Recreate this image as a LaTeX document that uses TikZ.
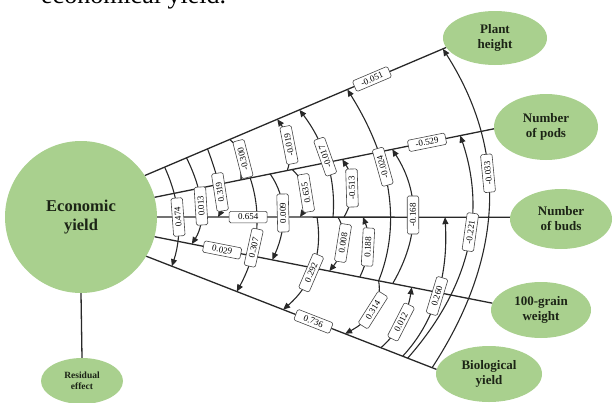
\documentclass[tikz,border=0pt]{standalone}
\usepackage{fontspec}
\setmainfont{Liberation Serif}
\usetikzlibrary{calc,arrows.meta,shapes.geometric}
\definecolor{leaf}{RGB}{169,208,142}
\definecolor{ink}{RGB}{28,36,22}
\definecolor{wire}{RGB}{40,40,40}
\pgfdeclarelayer{lbls}
\pgfsetlayers{main,lbls}
\tikzset{
  blob/.style={ellipse, fill=leaf, inner sep=0pt, align=center, text=ink},
  ray/.style={draw=wire, line width=1.3pt},
  arcl/.style={draw=wire, line width=1.1pt},
  lbl/.style={draw=gray!55!black, fill=white, line width=0.6pt, rounded corners=1.5pt,
    font=\fontsize{9}{10}\selectfont, minimum width=38pt, minimum height=11.5pt, inner sep=0.8pt},
  tipU/.style={-{Triangle[length=7pt,width=6pt]}},
  tipD/.style={{Triangle[length=7pt,width=6pt]}-},
}
% #1 lower point, #2 mid point, #3 upper point, #4 arrow style, #5 label, #6 label pos
\newcommand\parc[6]{%
  \draw[arcl,#4] (#1) .. controls ($1.3333*(#2)-0.3333*(#3)$) and ($1.3333*(#2)-0.3333*(#1)$) .. (#3);
  \begin{pgfonlayer}{lbls}
  \path (#1) .. controls ($1.3333*(#2)-0.3333*(#3)$) and ($1.3333*(#2)-0.3333*(#1)$) .. (#3)
     node[lbl,pos=#6,sloped,allow upside down]{#5};
  \end{pgfonlayer}
}
\newcommand\onray[3]{\coordinate (#1) at ($(#2a)!(#3)!(#2b)$);}
\begin{document}
\begin{tikzpicture}[x=1pt,y=-1pt]
\useasboundingbox (0,0) rectangle (613,402);

% partial caption line cut by the top edge
\node[anchor=base west, font=\fontsize{26}{30}\selectfont, inner sep=0pt] (cap) at (41,3) {economical yield.};

% nodes
\node[circle, fill=leaf, minimum size=152pt, inner sep=0pt, align=center, text=ink,
      font=\fontsize{16.5}{19}\selectfont\bfseries] (EY) at (81,217) {Economic\\yield};
\node[blob, minimum width=104pt, minimum height=54pt, font=\fontsize{13}{15}\selectfont\bfseries] (PH) at (495,38) {Plant\\height};
\node[blob, minimum width=104pt, minimum height=66pt, font=\fontsize{13}{15}\selectfont\bfseries] (NP) at (546,127) {Number\\of pods};
\node[blob, minimum width=102pt, minimum height=60pt, font=\fontsize{13}{15}\selectfont\bfseries] (NB) at (561,219) {Number\\of buds};
\node[blob, minimum width=100pt, minimum height=56pt, font=\fontsize{13}{15}\selectfont\bfseries] (GW) at (541,310) {100-grain\\weight};
\node[blob, minimum width=106pt, minimum height=56pt, font=\fontsize{13}{15}\selectfont\bfseries] (BY) at (489,374) {Biological\\yield};
\node[blob, minimum width=82pt, minimum height=46pt, font=\fontsize{9.5}{11}\selectfont\bfseries] (RE) at (82,381) {Residual\\effect};

% rays
\coordinate (r1a) at (EY.33);  \coordinate (r1b) at (PH.191);
\coordinate (r2a) at (EY.15);  \coordinate (r2b) at (NP.182);
\coordinate (r3a) at (EY.0);   \coordinate (r3b) at (NB.178);
\coordinate (r4a) at (EY.-15); \coordinate (r4b) at (GW.172);
\coordinate (r5a) at (EY.-31); \coordinate (r5b) at (BY.175);
\draw[ray] (EY.33) -- (PH.191);
\draw[ray] (EY.15) -- (NP.182);
\draw[ray] (EY.0) -- (NB.178);
\draw[ray] (EY.-15) -- (GW.172);
\draw[ray] (EY.-31) -- (BY.175);
\draw[ray] (EY.south) -- (RE.north);

\begin{pgfonlayer}{lbls}
\path (EY.33) -- (PH.191) node[lbl,pos=0.754,sloped]{-0.051};
\path (EY.15) -- (NP.182) node[lbl,pos=0.803,sloped]{-0.529};
\path (EY.0) -- (NB.178) node[lbl,pos=0.258,sloped]{0.654};
\path (EY.-15) -- (GW.172) node[lbl,pos=0.20,sloped]{0.029};
\path (EY.-31) -- (BY.175) node[lbl,pos=0.576,sloped]{0.736};
\end{pgfonlayer}

% points on rays
\onray{p15}{r1}{165,168} \onray{p14}{r1}{187,159} \onray{p13}{r1}{208,150} \onray{p12}{r1}{230,140}
\onray{p21}{r1}{278,121} \onray{p31}{r1}{300,111} \onray{p41}{r1}{348,91}  \onray{p51}{r1}{443,49}
\onray{q12}{r2}{240,179} \onray{q25}{r2}{250,177} \onray{q24}{r2}{270,173} \onray{q21}{r2}{287,169}
\onray{q23}{r2}{292,168} \onray{q32}{r2}{342,158} \onray{q42}{r2}{392,148} \onray{q52}{r2}{460,134}
\onray{s13}{r3}{218,217} \onray{s23}{r3}{300,217} \onray{s35}{r3}{317,217} \onray{s31}{r3}{333,217}
\onray{s34}{r3}{338,217} \onray{s32}{r3}{344,217} \onray{s43}{r3}{363,217} \onray{s53}{r3}{445,217}
\onray{t14}{r4}{192,243} \onray{t24}{r4}{273,257} \onray{t34}{r4}{330,268} \onray{t43}{r4}{360,276}
\onray{t45}{r4}{379,279} \onray{t42}{r4}{393,282} \onray{t54}{r4}{412,286}
\onray{u15}{r5}{172,266} \onray{u25}{r5}{237,291} \onray{u35}{r5}{283,310} \onray{u45}{r5}{345,334}
\onray{u54}{r5}{380,350} \onray{u53}{r5}{402,358} \onray{u52}{r5}{407,360} \onray{u51}{r5}{432,368}

% correlation arcs
\parc{u15}{178,217}{p15}{tipD}{0.474}{0.5}
\parc{t14}{201,206}{p14}{tipD}{0.013}{0.5}
\parc{s13}{220,192}{p13}{tipD}{0.319}{0.5}
\parc{q12}{243,159}{p12}{tipD}{-0.300}{0.5}
\parc{q21}{289,145}{p21}{tipU}{-0.019}{0.5}
\parc{s23}{306,193}{q23}{tipD}{0.635}{0.5}
\parc{t24}{283,213}{q24}{tipD}{0.009}{0.5}
\parc{u25}{256,234}{q25}{tipD}{0.307}{0.38}
\parc{s31}{327,162}{p31}{tipU}{-0.017}{0.55}
\parc{s32}{352,188}{q32}{tipU}{-0.513}{0.5}
\parc{t34}{343,243}{s34}{tipD}{0.008}{0.5}
\parc{u35}{313,268}{s35}{tipD}{0.292}{0.45}
\parc{t45}{388,190}{p41}{tipU}{-0.024}{0.62}
\parc{t42}{413,215}{q42}{tipU}{-0.168}{0.5}
\parc{t43}{368,247}{s43}{tipU}{0.188}{0.5}
\parc{u45}{373,310}{t45}{tipD}{0.314}{0.5}
\parc{u51}{489,205}{p51}{tipU}{-0.033}{0.6}
\parc{u52}{467,250}{q52}{tipU}{-0.221}{0.58}
\parc{u53}{437,296}{s53}{tipU}{0.260}{0.5}
\parc{u54}{401,322}{t54}{tipU}{0.012}{0.5}
\end{tikzpicture}
\end{document}
